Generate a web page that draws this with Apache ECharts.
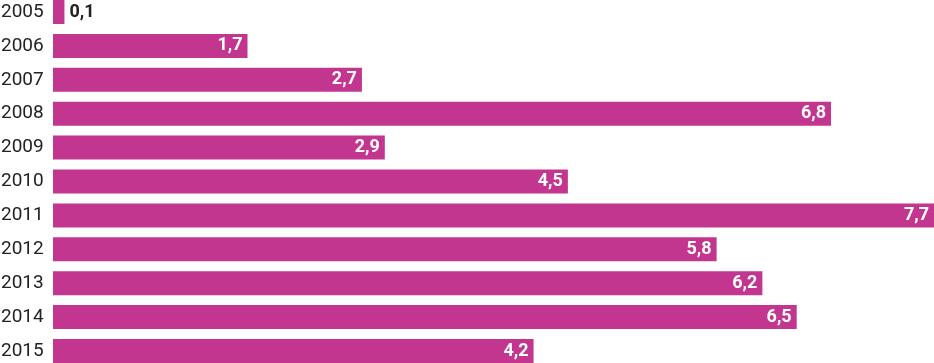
<!DOCTYPE html>
<html><head><meta charset="utf-8">
<script src="https://cdn.jsdelivr.net/npm/echarts@6/dist/echarts.min.js"></script>
<style>html,body{margin:0;padding:0;background:#fff}#c{width:934px;height:363px}</style>
</head><body><div id="c"></div>
<script>
const years = ['2005','2006','2007','2008','2009','2010','2011','2012','2013','2014','2015'];
const values = [0.1,1.7,2.7,6.8,2.9,4.5,7.7,5.8,6.2,6.5,4.2];
const barColor = '#c2368f';
const fmt = v => String(v).replace('.', ',');
const chart = echarts.init(document.getElementById('c'), null, {renderer:'canvas'});
chart.setOption({
  animation:false,
  grid:{left:53,right:0,top:12,bottom:12,containLabel:false,outerBoundsMode:'none'},
  xAxis:{type:'value',min:0,max:7.7,show:false},
  yAxis:{type:'category',data:years,inverse:true,boundaryGap:false,
    axisLine:{show:false},axisTick:{show:false},splitLine:{show:false},
    axisLabel:{align:'left',margin:52,color:'#222',fontFamily:'Roboto',fontSize:19}},
  series:[{type:'bar',barWidth:24,
    data:values.map(v=>({value:v,
      label: v<1 ? {position:'right',color:'#222',distance:5} : {position:'insideRight',color:'#fff',distance:5}
    })),
    itemStyle:{color:barColor},
    label:{show:true,fontFamily:'Roboto',fontWeight:'bold',fontSize:18,formatter:p=>fmt(p.value)}
  }]
});
</script></body></html>
